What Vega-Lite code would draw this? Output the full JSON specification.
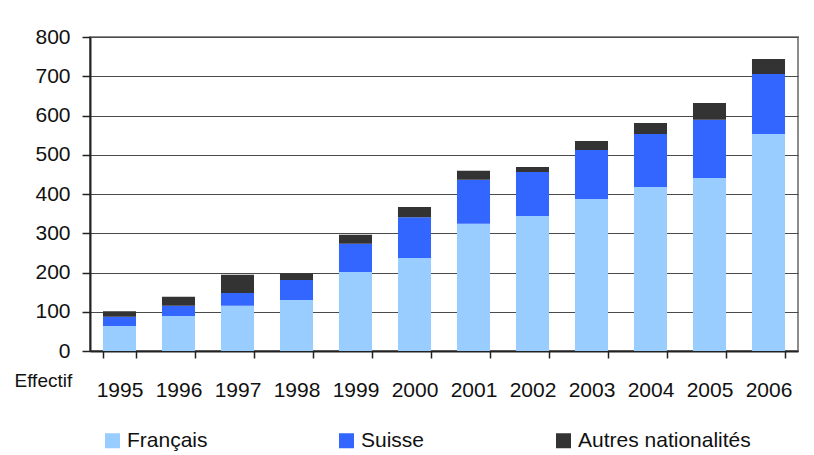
{
  "$schema": "https://vega.github.io/schema/vega-lite/v6.json",
  "width": 708,
  "height": 314,
  "autosize": {"type": "none"},
  "padding": {"left": 90, "top": 37, "right": 16, "bottom": 104},
  "background": "white",
  "config": {
    "font": "Liberation Sans, Arial, sans-serif",
    "view": {"stroke": "#8c8c8c", "strokeWidth": 2},
    "axis": {"labelFont": "Liberation Sans, Arial, sans-serif", "labelColor": "#111", "labelFontSize": 21, "domainColor": "#222", "tickColor": "#222", "domainWidth": 2, "tickWidth": 1.5}
  },
  "data": {
    "values": [
      {"annee": "1995", "nationalite": "Français", "ordre": 1, "effectif": 64},
      {"annee": "1995", "nationalite": "Suisse", "ordre": 2, "effectif": 23},
      {"annee": "1995", "nationalite": "Autres nationalités", "ordre": 3, "effectif": 14},
      {"annee": "1996", "nationalite": "Français", "ordre": 1, "effectif": 89},
      {"annee": "1996", "nationalite": "Suisse", "ordre": 2, "effectif": 26},
      {"annee": "1996", "nationalite": "Autres nationalités", "ordre": 3, "effectif": 23},
      {"annee": "1997", "nationalite": "Français", "ordre": 1, "effectif": 115},
      {"annee": "1997", "nationalite": "Suisse", "ordre": 2, "effectif": 33},
      {"annee": "1997", "nationalite": "Autres nationalités", "ordre": 3, "effectif": 46},
      {"annee": "1998", "nationalite": "Français", "ordre": 1, "effectif": 130},
      {"annee": "1998", "nationalite": "Suisse", "ordre": 2, "effectif": 51},
      {"annee": "1998", "nationalite": "Autres nationalités", "ordre": 3, "effectif": 17},
      {"annee": "1999", "nationalite": "Français", "ordre": 1, "effectif": 201},
      {"annee": "1999", "nationalite": "Suisse", "ordre": 2, "effectif": 72},
      {"annee": "1999", "nationalite": "Autres nationalités", "ordre": 3, "effectif": 23},
      {"annee": "2000", "nationalite": "Français", "ordre": 1, "effectif": 237},
      {"annee": "2000", "nationalite": "Suisse", "ordre": 2, "effectif": 104},
      {"annee": "2000", "nationalite": "Autres nationalités", "ordre": 3, "effectif": 26},
      {"annee": "2001", "nationalite": "Français", "ordre": 1, "effectif": 324},
      {"annee": "2001", "nationalite": "Suisse", "ordre": 2, "effectif": 112},
      {"annee": "2001", "nationalite": "Autres nationalités", "ordre": 3, "effectif": 23},
      {"annee": "2002", "nationalite": "Français", "ordre": 1, "effectif": 344},
      {"annee": "2002", "nationalite": "Suisse", "ordre": 2, "effectif": 112},
      {"annee": "2002", "nationalite": "Autres nationalités", "ordre": 3, "effectif": 13},
      {"annee": "2003", "nationalite": "Français", "ordre": 1, "effectif": 387},
      {"annee": "2003", "nationalite": "Suisse", "ordre": 2, "effectif": 125},
      {"annee": "2003", "nationalite": "Autres nationalités", "ordre": 3, "effectif": 23},
      {"annee": "2004", "nationalite": "Français", "ordre": 1, "effectif": 418},
      {"annee": "2004", "nationalite": "Suisse", "ordre": 2, "effectif": 135},
      {"annee": "2004", "nationalite": "Autres nationalités", "ordre": 3, "effectif": 28},
      {"annee": "2005", "nationalite": "Français", "ordre": 1, "effectif": 441},
      {"annee": "2005", "nationalite": "Suisse", "ordre": 2, "effectif": 148},
      {"annee": "2005", "nationalite": "Autres nationalités", "ordre": 3, "effectif": 43},
      {"annee": "2006", "nationalite": "Français", "ordre": 1, "effectif": 553},
      {"annee": "2006", "nationalite": "Suisse", "ordre": 2, "effectif": 153},
      {"annee": "2006", "nationalite": "Autres nationalités", "ordre": 3, "effectif": 38}
    ]
  },
  "mark": {"type": "bar"},
  "encoding": {
    "x": {
      "field": "annee",
      "type": "nominal",
      "scale": {"paddingInner": 0.44, "paddingOuter": 0.22},
      "axis": {"title": null, "labelAngle": 0, "tickBand": "extent", "tickSize": 7, "labelPadding": 21, "labelBaseline": "top", "grid": false}
    },
    "y": {
      "field": "effectif",
      "type": "quantitative",
      "stack": "zero",
      "scale": {"domain": [0, 800], "nice": false},
      "axis": {
        "values": [0, 100, 200, 300, 400, 500, 600, 700, 800],
        "title": "Effectif",
        "titleAngle": 0,
        "titleAlign": "left",
        "titleBaseline": "alphabetic",
        "titleX": -76,
        "titleY": 349,
        "titleFontSize": 19,
        "titleFontWeight": "normal",
        "titleColor": "#111",
        "titleFont": "Liberation Sans, Arial, sans-serif",
        "tickSize": 8,
        "labelPadding": 12,
        "grid": true,
        "gridColor": "#4a4a4a",
        "gridWidth": 1,
        "gridOpacity": 1
      }
    },
    "color": {
      "field": "nationalite",
      "type": "nominal",
      "scale": {"domain": ["Français", "Suisse", "Autres nationalités"], "range": ["#99CCFF", "#3366FF", "#333333"]},
      "legend": {
        "title": null,
        "orient": "none",
        "direction": "horizontal",
        "legendX": 12,
        "legendY": 393,
        "symbolType": "square",
        "symbolSize": 225,
        "symbolStrokeWidth": 0,
        "symbolOpacity": 1,
        "labelFontSize": 21,
        "labelColor": "#111",
        "labelOffset": 4,
        "labelLimit": 400,
        "columnPadding": 128,
        "labelFont": "Liberation Sans, Arial, sans-serif"
      }
    },
    "order": {"field": "ordre", "type": "quantitative"}
  }
}
